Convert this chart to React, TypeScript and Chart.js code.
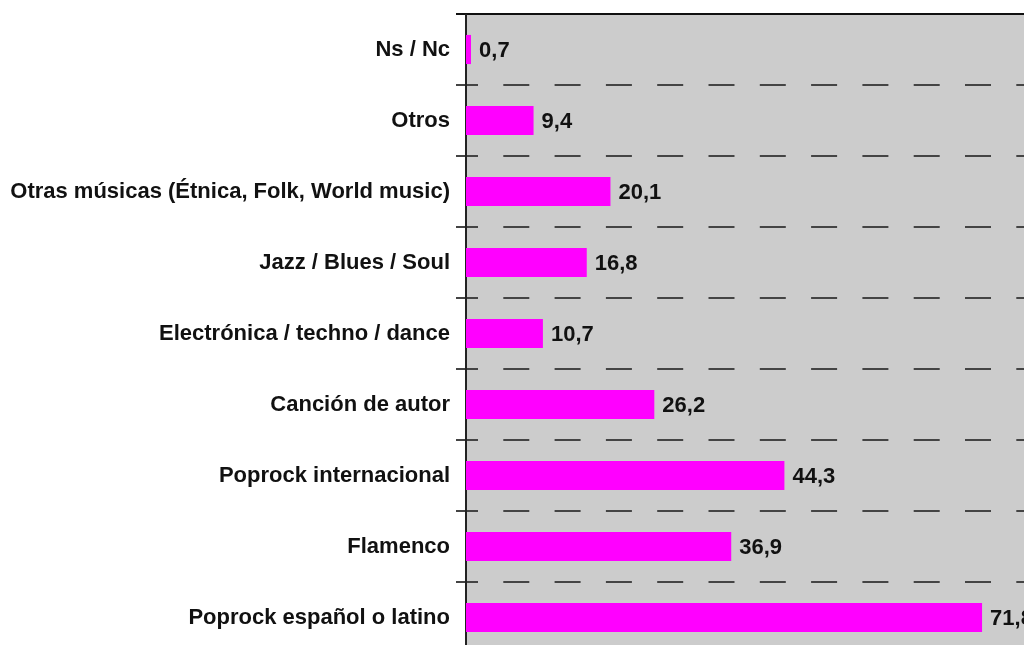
import React, { useEffect, useRef } from "react";
import { Chart, registerables } from "chart.js";

Chart.register(...registerables);

const categories = [
  "Ns / Nc",
  "Otros",
  "Otras músicas (Étnica, Folk, World music)",
  "Jazz / Blues / Soul",
  "Electrónica / techno / dance",
  "Canción de autor",
  "Poprock internacional",
  "Flamenco",
  "Poprock español o latino",
];
const values = [0.7, 9.4, 20.1, 16.8, 10.7, 26.2, 44.3, 36.9, 71.8];

const FONT = '"Liberation Sans", Arial, sans-serif';

const decorPlugin = {
  id: "decor",
  beforeDraw(chart: any) {
    const { ctx, chartArea } = chart;
    ctx.save();
    ctx.fillStyle = "#cccccc";
    ctx.fillRect(chartArea.left, chartArea.top, chartArea.right - chartArea.left, chartArea.bottom - chartArea.top);
    ctx.restore();
  },
  beforeDatasetsDraw(chart: any) {
    const { ctx, chartArea } = chart;
    const y = chart.scales.y;
    const n = categories.length;
    ctx.save();
    for (let i = 1; i < n; i++) {
      const py = Math.round(y.getPixelForValue(i - 0.5));
      ctx.strokeStyle = "#444444";
      ctx.lineWidth = 2;
      ctx.setLineDash([]);
      ctx.beginPath();
      ctx.moveTo(chartArea.left - 10, py);
      ctx.lineTo(chartArea.left, py);
      ctx.stroke();
      ctx.setLineDash([26, 25.3]);
      ctx.lineDashOffset = 14;
      ctx.beginPath();
      ctx.moveTo(chartArea.left, py);
      ctx.lineTo(chartArea.right, py);
      ctx.stroke();
    }
    ctx.setLineDash([]);
    const top = Math.round(y.getPixelForValue(-0.5));
    ctx.strokeStyle = "#111111";
    ctx.lineWidth = 2;
    ctx.beginPath();
    ctx.moveTo(chartArea.left - 10, top);
    ctx.lineTo(chartArea.right, top);
    ctx.stroke();
    ctx.strokeStyle = "#222222";
    ctx.beginPath();
    ctx.moveTo(chartArea.left, top);
    ctx.lineTo(chartArea.left, chartArea.bottom);
    ctx.stroke();
    ctx.restore();
  },
  afterDatasetsDraw(chart: any) {
    const { ctx } = chart;
    const meta = chart.getDatasetMeta(0);
    ctx.save();
    ctx.fillStyle = "#111111";
    ctx.font = `bold 22px ${FONT}`;
    ctx.textBaseline = "middle";
    ctx.textAlign = "left";
    meta.data.forEach((bar: any, i: number) => {
      const label = values[i].toFixed(1).replace(".", ",");
      ctx.fillText(label, bar.x + 8, bar.y + 1);
    });
    ctx.restore();
  },
};

export default function App() {
  const ref = useRef<HTMLCanvasElement>(null);
  useEffect(() => {
    if (!ref.current) return;
    const chart = new Chart(ref.current, {
      type: "bar",
      data: {
        labels: categories,
        datasets: [
          {
            data: values,
            backgroundColor: "#ff00ff",
            borderWidth: 0,
            categoryPercentage: 1,
            barPercentage: 0.41,
          },
        ],
      },
      options: {
        indexAxis: "y",
        animation: false,
        responsive: false,
        devicePixelRatio: 1,
        layout: { padding: { top: 6, right: 67, bottom: 35, left: 0 } },
        plugins: { legend: { display: false }, tooltip: { enabled: false } },
        scales: {
          x: { display: false, min: 0, max: 80 },
          y: {
            grid: { display: false },
            border: { display: false },
            afterFit: (s: any) => {
              s.width = 458;
              s.paddingTop = 0;
              s.paddingBottom = 0;
            },
            ticks: {
              color: "#111111",
              padding: 8,
              font: { family: FONT, size: 22, weight: "bold" },
            },
          },
        },
      },
      plugins: [decorPlugin],
    });
    return () => chart.destroy();
  }, []);
  return (
    <div style={{ width: 1024, height: 637, overflow: "hidden" }}>
      <canvas ref={ref} width={1100} height={680} style={{ display: "block" }} />
    </div>
  );
}
